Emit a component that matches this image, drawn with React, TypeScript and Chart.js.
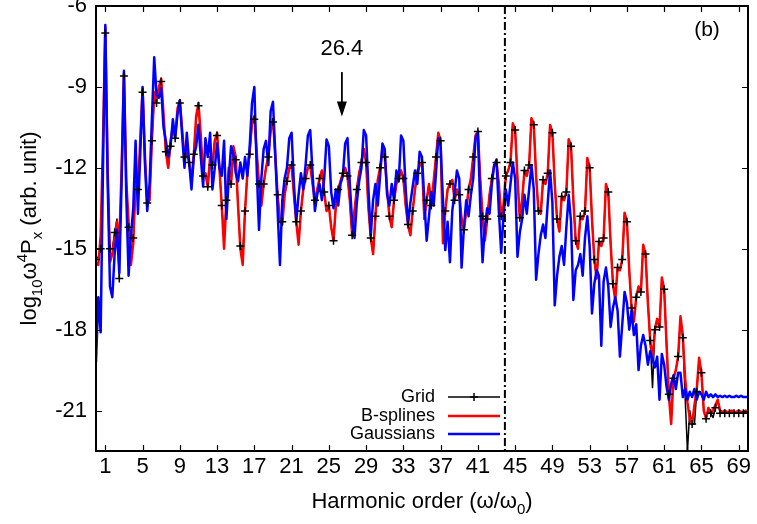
import React, { useEffect, useRef } from "react";
import { Chart, registerables } from "chart.js";

Chart.register(...registerables);

const FONT = '"Liberation Sans", Arial, Helvetica, sans-serif';

// sampling step of the harmonic-order axis (x = index * STEP)
const STEP = 0.25;

const xTickValues = [1, 5, 9, 13, 17, 21, 25, 29, 33, 37, 41, 45, 49, 53, 57, 61, 65, 69];
const yTickValues = [-21, -18, -15, -12, -9, -6];

const seriesNames = ["Grid", "B-splines", "Gaussians"];

// log10 w^4 Px, Gaussians basis (blue), samples at 0, 0.25, 0.5, ... 70
const gaussians = [
  -19.2, -16.8, -18.1, -12.0,
  -6.7, -12.5, -16.4, -16.8,
  -15.2, -14.3, -15.9, -12.5,
  -8.4, -13.0, -16.0, -14.5,
  -13.5, -11.0, -13.7, -11.5,
  -9.0, -11.8, -13.6, -12.6,
  -10.2, -7.9, -9.3, -9.4,
  -9.05, -10.5, -11.0, -11.6,
  -11.2, -10.2, -10.9, -10.0,
  -9.5, -10.8, -12.0, -10.7,
  -11.8, -12.8, -11.6, -11.2,
  -10.4, -11.6, -12.7, -10.9,
  -11.6, -10.7, -12.8, -12.0,
  -11.1, -12.0, -12.3, -11.0,
  -13.9, -12.4, -11.2, -11.5,
  -12.2, -12.5, -11.8, -12.4,
  -11.6, -12.3, -11.2, -9.6,
  -9.0, -12.0, -14.3, -12.4,
  -11.3, -11.0, -11.9, -9.9,
  -9.55, -11.5, -13.6, -15.6,
  -13.2, -12.4, -12.0, -10.9,
  -10.7, -12.6, -14.0, -13.0,
  -12.2, -12.8, -11.9, -10.8,
  -10.6, -12.2, -13.6, -13.0,
  -12.6, -13.2, -12.4, -10.95,
  -11.2, -12.9, -13.5, -12.8,
  -13.4, -12.6, -12.3, -11.1,
  -10.9, -12.6, -14.0, -14.6,
  -13.3, -12.5, -12.0, -10.6,
  -10.8, -12.8, -14.5, -13.2,
  -12.6, -13.4, -12.3, -11.1,
  -11.3, -13.0, -13.4, -12.6,
  -13.2, -12.1, -12.5, -10.8,
  -11.0, -12.8, -14.1, -13.3,
  -12.7, -12.1, -12.6, -11.4,
  -11.6, -13.2, -14.7, -13.8,
  -12.9, -13.4, -12.2, -10.9,
  -11.2, -13.2, -15.05, -14.0,
  -15.5, -13.6, -12.9, -12.1,
  -12.4, -15.7, -14.2, -13.2,
  -13.8, -13.0, -12.4, -10.9,
  -10.7, -13.4, -15.5, -14.2,
  -13.5, -13.7, -12.6, -11.9,
  -11.7, -13.6, -15.15, -13.8,
  -12.8, -13.4, -12.6, -11.8,
  -12.4, -15.3, -14.4, -13.9,
  -13.0, -13.7, -12.8, -11.9,
  -12.8, -16.15, -15.2, -14.5,
  -14.1, -14.6, -13.3, -12.1,
  -13.3, -17.1, -16.0, -15.3,
  -14.9, -15.6, -14.2, -13.0,
  -14.0, -16.9, -15.8, -15.6,
  -15.2, -16.0, -14.6, -13.8,
  -14.9, -17.4, -16.3, -15.8,
  -16.0, -18.6, -16.2, -15.7,
  -16.4, -17.9, -17.2, -16.8,
  -17.3, -19.0, -17.8, -16.6,
  -17.0, -18.0, -17.3, -18.2,
  -17.8, -19.5, -18.6, -18.2,
  -18.6, -19.3, -18.8, -19.1,
  -19.4, -19.0, -20.6, -18.9,
  -19.3, -20.1, -20.6, -20.0,
  -19.7, -20.2, -19.6, -19.6,
  -20.5, -20.2, -20.6, -20.3,
  -20.5, -20.2, -20.6, -20.3,
  -20.4, -20.6, -20.3, -20.5,
  -20.4, -20.5, -20.4, -20.5,
  -20.45, -20.5, -20.45, -20.5,
  -20.45, -20.5, -20.5, -20.45,
  -20.5, -20.45, -20.5, -20.5,
  -20.5,
];

// B-splines basis (red)
const bsplines = [
  -15.5, -15.6, -14.5, -11.0,
  -6.8, -12.0, -15.5, -15.2,
  -14.6, -14.0, -14.8, -12.0,
  -8.5, -12.5, -14.0, -15.6,
  -14.8, -12.5, -12.8, -11.0,
  -9.1, -11.5, -13.3, -13.2,
  -11.0, -9.2, -9.5, -9.0,
  -8.7, -10.0, -11.4, -12.0,
  -11.0, -10.5, -10.9, -9.8,
  -9.5, -10.6, -11.6, -11.4,
  -11.8, -12.5, -11.5, -10.1,
  -9.6, -10.8, -12.3, -12.2,
  -12.7, -11.6, -11.9, -11.0,
  -10.7, -12.0, -13.4, -15.0,
  -13.2, -12.0, -12.6, -11.2,
  -11.6, -13.4, -15.0, -15.6,
  -13.6, -12.2, -11.4, -10.3,
  -10.1, -11.4, -12.6, -13.4,
  -12.6, -12.0, -11.6, -10.6,
  -10.2, -11.6, -13.0, -14.0,
  -14.1, -13.0, -12.5, -12.0,
  -11.9, -13.0, -14.0, -14.85,
  -13.6, -12.8, -12.4, -12.0,
  -11.9, -12.6, -13.2, -12.8,
  -12.4, -12.1, -12.9, -13.6,
  -13.4, -14.2, -14.7, -13.4,
  -12.8, -12.5, -12.2, -12.0,
  -12.3, -13.2, -14.5, -13.6,
  -12.8, -12.2, -11.8, -11.3,
  -11.8, -13.5, -14.6, -15.2,
  -13.8, -12.45, -12.0, -11.3,
  -11.6, -12.8, -13.8, -14.2,
  -13.2, -12.6, -12.4, -12.1,
  -12.4, -13.4, -14.1, -14.5,
  -13.6, -12.8, -12.2, -11.9,
  -11.8, -13.9, -13.2, -12.6,
  -13.4, -12.5, -11.6, -10.7,
  -11.0, -14.8, -13.6, -12.8,
  -12.6, -12.45, -13.2, -12.8,
  -13.0, -13.9, -14.3, -13.6,
  -12.8, -12.4, -11.6, -10.8,
  -10.65, -12.4, -13.8, -14.7,
  -13.9, -13.0, -12.4, -11.9,
  -11.8, -12.6, -13.8, -13.4,
  -12.3, -12.1, -11.8, -10.35,
  -10.6, -12.4, -13.85, -13.2,
  -12.1, -12.3, -11.9, -10.16,
  -10.4, -12.3, -13.6, -13.7,
  -12.44, -12.6, -12.2, -10.41,
  -10.7, -12.6, -13.9, -14.36,
  -13.06, -13.2, -12.9, -10.94,
  -11.2, -13.2, -14.7, -15.0,
  -13.8, -13.9, -13.6, -11.64,
  -12.0, -13.9, -15.4, -16.1,
  -14.73, -14.9, -14.6, -12.6,
  -12.9, -14.8, -16.3, -16.9,
  -15.7, -15.8, -15.4, -13.67,
  -14.0, -15.8, -17.2, -17.7,
  -16.8, -16.4, -16.6, -14.85,
  -15.2, -17.0, -18.4, -19.1,
  -18.0, -17.6, -17.9, -16.07,
  -16.5, -18.5, -20.4, -21.5,
  -19.8, -19.5, -19.0, -17.5,
  -18.2, -19.8, -20.7, -21.3,
  -21.5, -20.8, -20.2, -19.04,
  -19.6, -21.0, -21.3, -20.9,
  -21.1, -21.0, -20.8, -20.6,
  -21.0, -21.05, -21.0, -21.05,
  -21.05, -21.0, -21.05, -21.05,
  -21.0, -21.05, -21.05, -21.0,
  -21.05,
];

// Grid (black, + markers)
const gridSeries = [
  -15.4, -15.3, -15.0, -11.2,
  -7.0, -12.2, -15.0, -15.0,
  -14.4, -13.9, -16.1, -12.3,
  -8.6, -12.6, -14.2, -15.2,
  -14.6, -12.7, -12.8, -11.2,
  -9.2, -11.6, -13.3, -13.2,
  -11.0, -9.4, -9.6, -9.1,
  -8.8, -10.2, -11.4, -12.0,
  -11.2, -10.4, -10.9, -10.0,
  -9.6, -10.7, -11.6, -11.4,
  -11.8, -12.5, -11.5, -10.2,
  -9.7, -10.9, -12.3, -12.2,
  -12.7, -11.7, -11.9, -11.0,
  -10.8, -12.0, -13.4, -14.7,
  -13.2, -12.1, -12.6, -11.3,
  -11.7, -13.4, -14.9, -15.2,
  -13.6, -12.2, -11.5, -10.4,
  -10.2, -11.4, -12.6, -13.4,
  -12.6, -12.0, -11.6, -10.7,
  -10.3, -11.6, -13.0, -14.0,
  -14.0, -13.0, -12.5, -12.0,
  -11.9, -13.0, -14.0, -14.7,
  -13.6, -12.8, -12.4, -12.0,
  -11.9, -12.6, -13.2, -12.8,
  -12.4, -12.1, -12.9, -13.6,
  -13.4, -14.2, -14.7, -13.4,
  -12.8, -12.5, -12.2, -12.0,
  -12.3, -13.2, -14.5, -13.6,
  -12.8, -12.2, -11.8, -11.3,
  -11.8, -13.5, -14.6, -15.2,
  -13.8, -12.45, -12.0, -11.3,
  -11.6, -12.8, -13.8, -14.2,
  -13.2, -12.6, -12.4, -12.1,
  -12.4, -13.4, -14.1, -14.5,
  -13.6, -12.8, -12.2, -11.9,
  -11.8, -13.9, -13.2, -12.6,
  -13.4, -12.5, -11.6, -10.7,
  -11.0, -14.8, -13.6, -12.8,
  -12.6, -12.45, -13.2, -12.8,
  -13.0, -13.9, -14.3, -13.6,
  -12.8, -12.4, -11.6, -10.8,
  -10.65, -12.4, -13.8, -14.7,
  -13.9, -13.0, -12.4, -11.9,
  -11.8, -12.6, -13.8, -13.4,
  -12.3, -12.1, -11.8, -10.35,
  -10.6, -12.4, -13.85, -13.2,
  -12.1, -12.3, -11.9, -10.16,
  -10.4, -12.3, -13.6, -13.7,
  -12.44, -12.6, -12.2, -10.41,
  -10.7, -12.6, -13.9, -14.36,
  -13.06, -13.2, -12.9, -10.94,
  -11.2, -13.2, -14.7, -15.0,
  -13.8, -13.9, -13.6, -11.64,
  -12.0, -13.9, -15.4, -16.1,
  -14.73, -14.9, -14.6, -12.6,
  -12.9, -14.8, -16.3, -16.9,
  -15.7, -15.8, -15.4, -13.67,
  -14.0, -15.8, -17.2, -17.7,
  -16.8, -16.4, -16.6, -14.85,
  -15.2, -17.0, -18.4, -20.15,
  -18.0, -17.6, -17.9, -16.1,
  -16.5, -18.5, -20.4, -21.3,
  -19.8, -19.5, -19.0, -17.6,
  -18.3, -20.5, -22.5, -21.0,
  -21.5, -21.5, -20.3, -19.1,
  -19.6, -21.0, -21.3, -21.0,
  -21.1, -21.26, -20.9, -20.6,
  -21.1, -21.1, -21.1, -21.1,
  -21.1, -21.1, -21.1, -21.1,
  -21.1, -21.1, -21.1, -21.1,
  -21.1,
];

// annotations
const cutoffHarmonic = 43.9;
const arrowHarmonic = 26.4;
const arrowLabel = "26.4";
const arrowTop = -8.45;
const arrowTip = -10.1;
const arrowLabelY = -7.6;
const panelLabel = "(b)";
const panelLabelX = 65.6;
const panelLabelY = -6.9;

const toPoints = (arr: number[]) => arr.map((y, i) => ({ x: i * STEP, y }));

function drawPieces(
  ctx: CanvasRenderingContext2D,
  pieces: { t: string; size: number; dy: number }[],
  cx: number,
  baseline: number
) {
  let total = 0;
  for (const p of pieces) {
    ctx.font = `${p.size}px ${FONT}`;
    total += ctx.measureText(p.t).width;
  }
  let x = cx - total / 2;
  ctx.textAlign = "left";
  ctx.textBaseline = "alphabetic";
  for (const p of pieces) {
    ctx.font = `${p.size}px ${FONT}`;
    ctx.fillText(p.t, x, baseline + p.dy);
    x += ctx.measureText(p.t).width;
  }
}

const decorPlugin = {
  id: "decor",
  afterDatasetsDraw(chart: any) {
    const { ctx, chartArea } = chart;
    const xs = chart.scales.x;
    const ys = chart.scales.y;
    const { left, right, top, bottom } = chartArea;
    ctx.save();
    ctx.strokeStyle = "#000";
    ctx.fillStyle = "#000";

    // cutoff dash-dot line
    const cx = xs.getPixelForValue(cutoffHarmonic);
    ctx.lineWidth = 2;
    ctx.setLineDash([8, 3, 2, 3]);
    ctx.beginPath();
    ctx.moveTo(cx, top);
    ctx.lineTo(cx, bottom);
    ctx.stroke();
    ctx.setLineDash([]);

    // frame
    ctx.lineWidth = 2;
    ctx.strokeRect(left, top, right - left, bottom - top);

    // inward ticks
    ctx.lineWidth = 1.2;
    const tl = 6;
    ctx.beginPath();
    for (const v of xTickValues) {
      const px = Math.round(xs.getPixelForValue(v)) + 0.5;
      ctx.moveTo(px, bottom);
      ctx.lineTo(px, bottom - tl);
      ctx.moveTo(px, top);
      ctx.lineTo(px, top + tl);
    }
    for (const v of yTickValues) {
      const py = Math.round(ys.getPixelForValue(v)) + 0.5;
      ctx.moveTo(left, py);
      ctx.lineTo(left + tl, py);
      ctx.moveTo(right, py);
      ctx.lineTo(right - tl, py);
    }
    ctx.stroke();

    // arrow with label
    const ax = xs.getPixelForValue(arrowHarmonic);
    const ay0 = ys.getPixelForValue(arrowTop);
    const ay1 = ys.getPixelForValue(arrowTip);
    ctx.lineWidth = 1.8;
    ctx.beginPath();
    ctx.moveTo(ax, ay0);
    ctx.lineTo(ax, ay1 - 12);
    ctx.stroke();
    ctx.beginPath();
    ctx.moveTo(ax, ay1);
    ctx.lineTo(ax - 5, ay1 - 15);
    ctx.lineTo(ax + 5, ay1 - 15);
    ctx.closePath();
    ctx.fill();
    ctx.font = `22px ${FONT}`;
    ctx.textAlign = "center";
    ctx.textBaseline = "middle";
    ctx.fillText(arrowLabel, ax, ys.getPixelForValue(arrowLabelY));

    // panel label
    ctx.font = `21px ${FONT}`;
    ctx.fillText(panelLabel, xs.getPixelForValue(panelLabelX), ys.getPixelForValue(panelLabelY));

    // legend
    const legendColors = ["#000000", "#ff0000", "#0000ff"];
    const legendWidths = [1.5, 2.5, 2.5];
    const textRight = left + 339;
    const lineX0 = left + 352;
    const lineX1 = left + 404;
    const rowY = [bottom - 54, bottom - 35, bottom - 17];
    ctx.font = `18px ${FONT}`;
    ctx.textAlign = "right";
    ctx.textBaseline = "middle";
    seriesNames.forEach((name, i) => {
      ctx.fillStyle = "#000";
      ctx.fillText(name, textRight, rowY[i]);
      ctx.strokeStyle = legendColors[i];
      ctx.lineWidth = legendWidths[i];
      ctx.beginPath();
      ctx.moveTo(lineX0, rowY[i]);
      ctx.lineTo(lineX1, rowY[i]);
      ctx.stroke();
    });
    // grid marker in legend
    const mx = (lineX0 + lineX1) / 2;
    ctx.strokeStyle = "#000";
    ctx.lineWidth = 1.5;
    ctx.beginPath();
    ctx.moveTo(mx - 4, rowY[0]);
    ctx.lineTo(mx + 4, rowY[0]);
    ctx.moveTo(mx, rowY[0] - 4);
    ctx.lineTo(mx, rowY[0] + 4);
    ctx.stroke();

    // x-axis title
    ctx.fillStyle = "#000";
    drawPieces(
      ctx,
      [
        { t: "Harmonic order (ω/ω", size: 22, dy: 0 },
        { t: "0", size: 15, dy: 6 },
        { t: ")", size: 22, dy: 0 },
      ],
      (left + right) / 2,
      508
    );

    // y-axis title (rotated)
    ctx.save();
    ctx.translate(36, 228.5);
    ctx.rotate(-Math.PI / 2);
    drawPieces(
      ctx,
      [
        { t: "log", size: 22, dy: 0 },
        { t: "10", size: 15, dy: 6 },
        { t: "ω", size: 22, dy: 0 },
        { t: "4", size: 15, dy: -9 },
        { t: "P", size: 22, dy: 0 },
        { t: "x", size: 15, dy: 6 },
        { t: " (arb. unit)", size: 22, dy: 0 },
      ],
      0,
      0
    );
    ctx.restore();

    ctx.restore();
  },
};

export default function App() {
  const ref = useRef<HTMLCanvasElement | null>(null);

  useEffect(() => {
    if (!ref.current) return;
    const gridPts = toPoints(gridSeries);
    const chart = new Chart(ref.current, {
      type: "line",
      data: {
        datasets: [
          {
            label: seriesNames[0] + " markers",
            data: gridPts.filter((_, i) => i % 2 === 0),
            showLine: false,
            pointStyle: "cross",
            pointRadius: 4,
            pointBorderWidth: 1.5,
            pointBorderColor: "#000",
            order: 0,
          },
          {
            label: seriesNames[2],
            data: toPoints(gaussians),
            borderColor: "#0000ff",
            borderWidth: 2.5,
            pointRadius: 0,
            order: 1,
          },
          {
            label: seriesNames[1],
            data: toPoints(bsplines),
            borderColor: "#ff0000",
            borderWidth: 2.5,
            pointRadius: 0,
            order: 2,
          },
          {
            label: seriesNames[0],
            data: gridPts,
            borderColor: "#000000",
            borderWidth: 1.5,
            pointRadius: 0,
            order: 3,
          },
        ],
      },
      options: {
        animation: false,
        responsive: false,
        events: [],
        layout: { padding: { left: 0, top: 6, right: 9, bottom: 0 } },
        elements: { line: { tension: 0, borderJoinStyle: "round" } },
        plugins: { legend: { display: false }, tooltip: { enabled: false } },
        scales: {
          x: {
            type: "linear",
            min: 0,
            max: 70,
            afterBuildTicks: (s: any) => {
              s.ticks = xTickValues.map((v) => ({ value: v }));
            },
            afterFit: (s: any) => {
              s.height = 73;
              s.paddingLeft = 0;
              s.paddingRight = 0;
            },
            grid: { display: false, drawTicks: false },
            border: { display: false },
            ticks: {
              font: { family: FONT, size: 22 },
              color: "#000",
              padding: 3,
              maxRotation: 0,
              autoSkip: false,
            },
          },
          y: {
            type: "linear",
            min: -22.5,
            max: -6,
            afterBuildTicks: (s: any) => {
              s.ticks = yTickValues.map((v) => ({ value: v }));
            },
            afterFit: (s: any) => {
              s.width = 96;
              s.paddingTop = 0;
              s.paddingBottom = 0;
            },
            grid: { display: false, drawTicks: false },
            border: { display: false },
            ticks: {
              font: { family: FONT, size: 22 },
              color: "#000",
              padding: 9,
              autoSkip: false,
            },
          },
        },
      },
      plugins: [decorPlugin],
    } as any);
    return () => chart.destroy();
  }, []);

  return (
    <div style={{ position: "absolute", left: 0, top: 0, width: 757, height: 524, background: "#fff" }}>
      <canvas ref={ref} width={757} height={524} style={{ display: "block" }} />
    </div>
  );
}
